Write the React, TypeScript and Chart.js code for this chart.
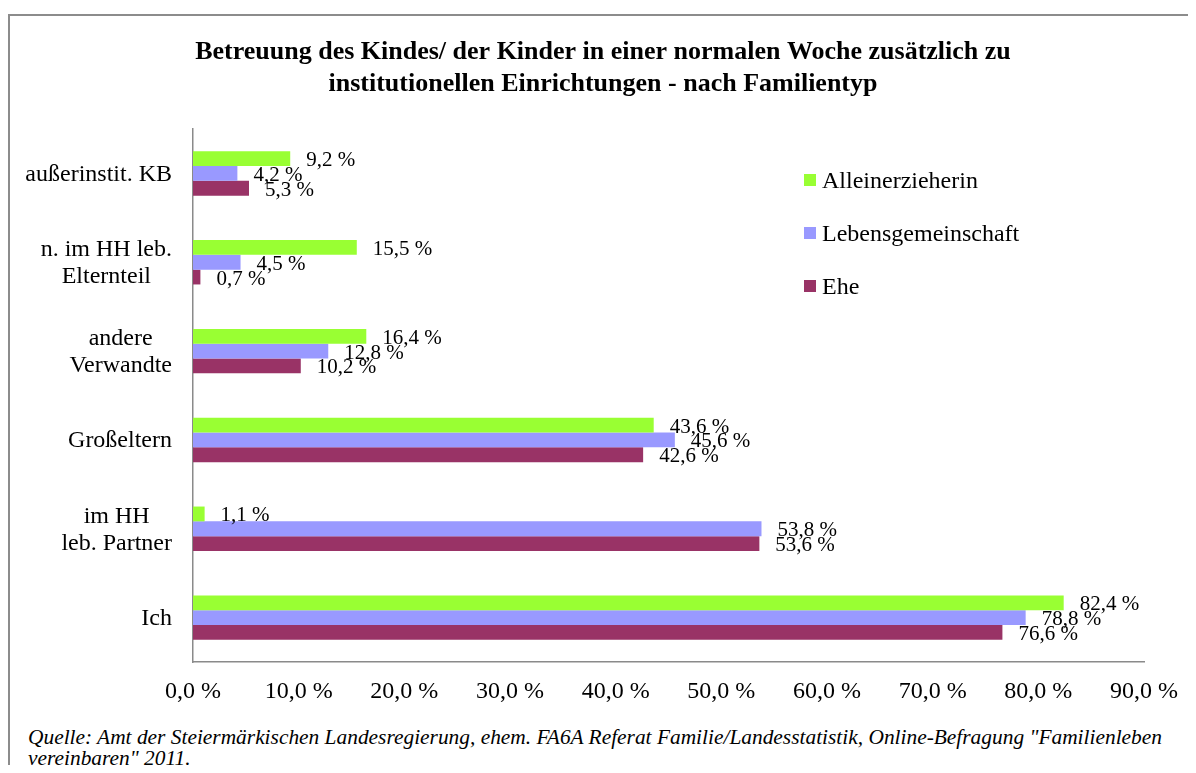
import React, { useEffect, useRef } from "react";
import { Chart, registerables } from "chart.js";

Chart.register(...registerables);

// ---- data ----
const titleLines = [
  "Betreuung des Kindes/ der Kinder in einer normalen Woche zusätzlich zu",
  "institutionellen Einrichtungen - nach Familientyp",
];
const categories: string[][] = [
  ["außerinstit. KB"],
  ["n. im HH leb.", "Elternteil"],
  ["andere", "Verwandte"],
  ["Großeltern"],
  ["im HH", "leb. Partner"],
  ["Ich"],
];
const seriesNames = ["Alleinerzieherin", "Lebensgemeinschaft", "Ehe"];
const alleinerzieherin = [9.2, 15.5, 16.4, 43.6, 1.1, 82.4];
const lebensgemeinschaft = [4.2, 4.5, 12.8, 45.6, 53.8, 78.8];
const ehe = [5.3, 0.7, 10.2, 42.6, 53.6, 76.6];
const seriesColors = ["#99FF33", "#9999FF", "#993366"];
const xMin = 0;
const xMax = 90;
const xStep = 10;
const sourceLines = [
  'Quelle: Amt der Steiermärkischen Landesregierung, ehem. FA6A Referat Familie/Landesstatistik, Online-Befragung "Familienleben',
  'vereinbaren" 2011.',
];

const FONT = '"Liberation Serif", "Times New Roman", Times, serif';
const fmt = (v: number) => v.toFixed(1).replace(".", ",") + " %";

const valueLabels = {
  id: "valueLabels",
  afterDatasetsDraw(chart: any) {
    const ctx = chart.ctx;
    ctx.save();
    ctx.font = `21px ${FONT}`;
    ctx.fillStyle = "#000";
    ctx.textAlign = "left";
    ctx.textBaseline = "middle";
    chart.data.datasets.forEach((ds: any, di: number) => {
      const meta = chart.getDatasetMeta(di);
      meta.data.forEach((el: any, i: number) => {
        ctx.fillText(fmt(ds.data[i]), el.x + 16, el.y + 2);
      });
    });
    ctx.restore();
  },
};

const categoryLabels = {
  id: "categoryLabels",
  afterDraw(chart: any) {
    const ctx = chart.ctx;
    const y = chart.scales.y;
    ctx.save();
    ctx.font = `24px ${FONT}`;
    ctx.fillStyle = "#000";
    ctx.textAlign = "center";
    ctx.textBaseline = "middle";
    const lineH = 27;
    const rightEdge = y.right - 21;
    categories.forEach((lines, i) => {
      const cy = y.getPixelForValue(i) + 1;
      const maxW = Math.max(...lines.map((l) => ctx.measureText(l).width));
      const cx = rightEdge - maxW / 2;
      const y0 = cy - ((lines.length - 1) * lineH) / 2;
      lines.forEach((l, k) => ctx.fillText(l, cx, y0 + k * lineH));
    });
    ctx.restore();
  },
};

function BarChart() {
  const ref = useRef<HTMLCanvasElement | null>(null);
  useEffect(() => {
    if (!ref.current) return;
    const chart = new Chart(ref.current, {
      type: "bar",
      data: {
        labels: categories.map((c) => c.join(" ")),
        datasets: [
          { label: seriesNames[0], data: alleinerzieherin, backgroundColor: seriesColors[0] },
          { label: seriesNames[1], data: lebensgemeinschaft, backgroundColor: seriesColors[1] },
          { label: seriesNames[2], data: ehe, backgroundColor: seriesColors[2] },
        ],
      },
      options: {
        indexAxis: "y",
        responsive: false,
        maintainAspectRatio: false,
        animation: false,
        devicePixelRatio: 1,
        layout: { padding: { left: 10, right: 0, top: 0, bottom: 0 } },
        datasets: { bar: { categoryPercentage: 0.5, barPercentage: 1.0 } },
        plugins: {
          legend: { display: false },
          tooltip: { enabled: false },
          title: {
            display: true,
            text: titleLines,
            color: "#000",
            font: { family: FONT, size: 26, weight: "bold", lineHeight: 32 / 26 },
            padding: { top: 28, bottom: 29 },
          },
        },
        scales: {
          x: {
            type: "linear",
            min: xMin,
            max: xMax,
            grid: { display: false },
            border: { display: true, color: "#8a8a8a", width: 1.5 },
            ticks: {
              stepSize: xStep,
              color: "#000",
              padding: 7,
              font: { family: FONT, size: 24 },
              callback: (v: any) => fmt(Number(v)),
            },
            afterFit: (s: any) => {
              s.height = 56;
              s.paddingRight = 44;
              s.paddingLeft = 0;
            },
          },
          y: {
            type: "category",
            grid: { display: false },
            border: { display: true, color: "#8a8a8a", width: 1.5 },
            ticks: { display: false },
            afterFit: (s: any) => {
              s.width = 175;
            },
          },
        },
      },
      plugins: [valueLabels, categoryLabels],
    } as any);
    return () => chart.destroy();
  }, []);
  return <canvas ref={ref} width={1180} height={710} style={{ position: "absolute", left: 0, top: 0, width: 1180, height: 710 }} />;
}

export default function App() {
  return (
    <div style={{ position: "relative", width: 1180, height: 757, overflow: "hidden" }}>
      <div
        style={{
          position: "absolute",
          left: 0,
          top: 6,
          width: 1180,
          height: 760,
          borderLeft: "2px solid #8c8c8c",
          borderTop: "2px solid #8c8c8c",
          boxSizing: "border-box",
        }}
      />
      <BarChart />
      <div style={{ position: "absolute", left: 796, top: 145, fontFamily: FONT, fontSize: 24, color: "#000" }}>
        {seriesNames.map((n, i) => (
          <div key={n} style={{ display: "flex", alignItems: "center", height: 53 }}>
            <span style={{ display: "inline-block", width: 12, height: 12, background: seriesColors[i], marginRight: 6 }} />
            <span style={{ lineHeight: "24px" }}>{n}</span>
          </div>
        ))}
      </div>
      <div
        style={{
          position: "absolute",
          left: 20,
          top: 719,
          fontFamily: FONT,
          fontStyle: "italic",
          fontSize: 21.4,
          lineHeight: "21px",
          color: "#000",
          whiteSpace: "nowrap",
        }}
      >
        {sourceLines.map((l) => (
          <div key={l}>{l}</div>
        ))}
      </div>
    </div>
  );
}
